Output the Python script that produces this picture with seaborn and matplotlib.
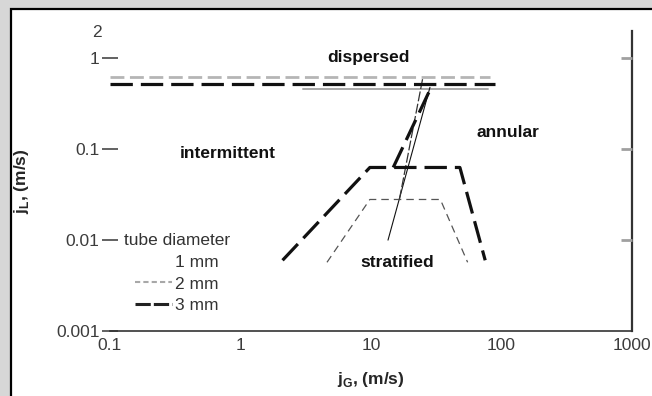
import matplotlib
matplotlib.use("Agg")
import matplotlib.pyplot as plt
from matplotlib.patches import Rectangle
from matplotlib.lines import Line2D
from matplotlib.ticker import FixedLocator, FixedFormatter, NullFormatter, NullLocator
import seaborn as sns

# ---------------- data ----------------
# 1 mm tube
d1_top_x = [3.0, 79.0]
d1_top_y = [0.46, 0.46]
d1_trans_x = [13.5, 28.3]
d1_trans_y = [0.010, 0.48]

# 2 mm tube
d2_top_x = [0.1, 81.0]
d2_top_y = [0.62, 0.62]
d2_strat_x = [4.6, 9.8, 34.0, 55.0]
d2_strat_y = [0.0057, 0.028, 0.028, 0.0057]
d2_trans_x = [16.5, 25.0]
d2_trans_y = [0.028, 0.62]

# 3 mm tube
d3_top_x = [0.1, 89.0]
d3_top_y = [0.52, 0.52]
d3_strat_x = [2.1, 9.8, 48.0, 75.0]
d3_strat_y = [0.006, 0.063, 0.063, 0.006]
d3_trans_x = [14.8, 29.3]
d3_trans_y = [0.063, 0.50]

x_ticks = [0.1, 1, 10, 100, 1000]
x_ticklabels = ["0.1", "1", "10", "100", "1000"]
y_ticks = [0.001, 0.01, 0.1, 1]
y_ticklabels = ["0.001", "0.01", "0.1", "1"]

regions = ["dispersed", "annular", "intermittent", "stratified"]
region_x = [9.5, 112, 0.80, 15.8]
region_y = [1.03, 0.154, 0.090, 0.0057]

legend_title = "tube diameter"
legend_labels = ["1 mm", "2 mm", "3 mm"]

# ---------------- figure ----------------
sns.set_style("white")
plt.rcParams["font.family"] = ["Liberation Sans", "DejaVu Sans"]

fig = plt.figure(figsize=(6.52, 3.96), dpi=100)
fig.patch.set_facecolor("#d7d7d7")
panel = Rectangle((11 / 652, -0.5), 5.0, (396 - 9) / 396 + 0.5,
                  transform=fig.transFigure, facecolor="white",
                  edgecolor="black", lw=1.6, zorder=-5)
fig.patches.append(panel)

ax = fig.add_axes([110 / 652, 1 - 331 / 396, 522 / 652, 300 / 396])
ax.set_facecolor("none")
ax.set_xscale("log")
ax.set_yscale("log")


def draw(x, y, **kw):
    sns.lineplot(x=x, y=y, ax=ax, sort=False, estimator=None, **kw)


# 1 mm
draw(d1_top_x, d1_top_y, color="#a8a8a8", lw=1.4)
draw(d1_trans_x, d1_trans_y, color="#111111", lw=0.8)
# 2 mm
draw(d2_top_x, d2_top_y, color="#b5b5b5", lw=2.0, linestyle=(0, (5, 2)))
draw(d2_strat_x, d2_strat_y, color="#555555", lw=0.9, linestyle=(0, (6, 4)))
draw(d2_trans_x, d2_trans_y, color="#333333", lw=0.9, linestyle=(0, (8, 2)))
# 3 mm
draw(d3_top_x, d3_top_y, color="#111111", lw=2.3, linestyle=(0, (7, 2.5)))
draw(d3_strat_x, d3_strat_y, color="#111111", lw=2.3, linestyle=(0, (7, 2.5)))
draw(d3_trans_x, d3_trans_y, color="#111111", lw=2.3, linestyle=(0, (7, 2.5)))

ax.set_xlim(0.1, 1000)
ax.set_ylim(0.001, 2)

# spines
for s in ["left", "top"]:
    ax.spines[s].set_visible(False)
ax.spines["bottom"].set_color("#333333")
ax.spines["bottom"].set_linewidth(1.2)
ax.spines["right"].set_color("#333333")
ax.spines["right"].set_linewidth(1.6)

tick_color = "#3c3c3c"
# x ticks
ax.xaxis.set_major_locator(FixedLocator(x_ticks))
ax.xaxis.set_major_formatter(FixedFormatter(x_ticklabels))
ax.tick_params(axis="x", which="major", length=0, pad=5,
               labelsize=12.5, labelcolor=tick_color)
ax.xaxis.set_minor_locator(FixedLocator([10, 100]))
ax.xaxis.set_minor_formatter(NullFormatter())
ax.tick_params(axis="x", which="minor", direction="in", length=6, width=1,
               color="#333333", bottom=True, top=True)
# y ticks
ax.yaxis.set_major_locator(FixedLocator(y_ticks))
ax.yaxis.set_major_formatter(FixedFormatter(y_ticklabels))
ax.tick_params(axis="y", which="major", direction="inout", length=11, width=1.3,
               color="#555555", pad=2, labelsize=12.5, labelcolor=tick_color,
               left=True, right=False)
ax.yaxis.set_minor_locator(FixedLocator([2]))
ax.yaxis.set_minor_formatter(FixedFormatter(["2"]))
ax.tick_params(axis="y", which="minor", length=0, pad=6, labelsize=12.5,
               labelcolor=tick_color, left=True, right=False)

# right-side inward ticks
ax2 = ax.twinx()
ax2.set_yscale("log")
ax2.set_ylim(0.001, 2)
ax2.yaxis.set_major_locator(FixedLocator([0.01, 0.1, 1]))
ax2.yaxis.set_minor_locator(NullLocator())
ax2.tick_params(axis="y", which="major", direction="in", length=8, width=2,
                color="#a0a0a0", labelright=False)
for s in ax2.spines.values():
    s.set_visible(False)

# axis labels
ax.set_xlabel(r"j$_\mathregular{G}$, (m/s)", fontsize=12.5, fontweight="bold",
              labelpad=12)
ax.set_ylabel(r"j$_\mathregular{L}$, (m/s)", fontsize=12.5, fontweight="bold",
              labelpad=18)

# region labels
for name, rx, ry in zip(regions, region_x, region_y):
    ax.text(rx, ry, name, ha="center", va="center", fontsize=12.5,
            fontweight="bold", color="#111111")

# legend
handles = [
    Line2D([], [], color="none", lw=1),
    Line2D([], [], color="#a8a8a8", lw=1.5, linestyle=(0, (2.5, 1.5))),
    Line2D([], [], color="#222222", lw=2.2, linestyle=(0, (5, 1))),
]
leg = ax.legend(handles, legend_labels, title=legend_title, frameon=False,
                loc="upper left", bbox_to_anchor=(0.02, 0.338),
                fontsize=12.5, title_fontsize=12.5, handlelength=2.1,
                handletextpad=0.2, labelspacing=0.38, borderpad=0.2,
                borderaxespad=0.0)
for t in leg.get_texts():
    t.set_color("#333333")
leg.get_title().set_color("#333333")

fig.savefig("out.png", dpi=100, facecolor=fig.get_facecolor())
